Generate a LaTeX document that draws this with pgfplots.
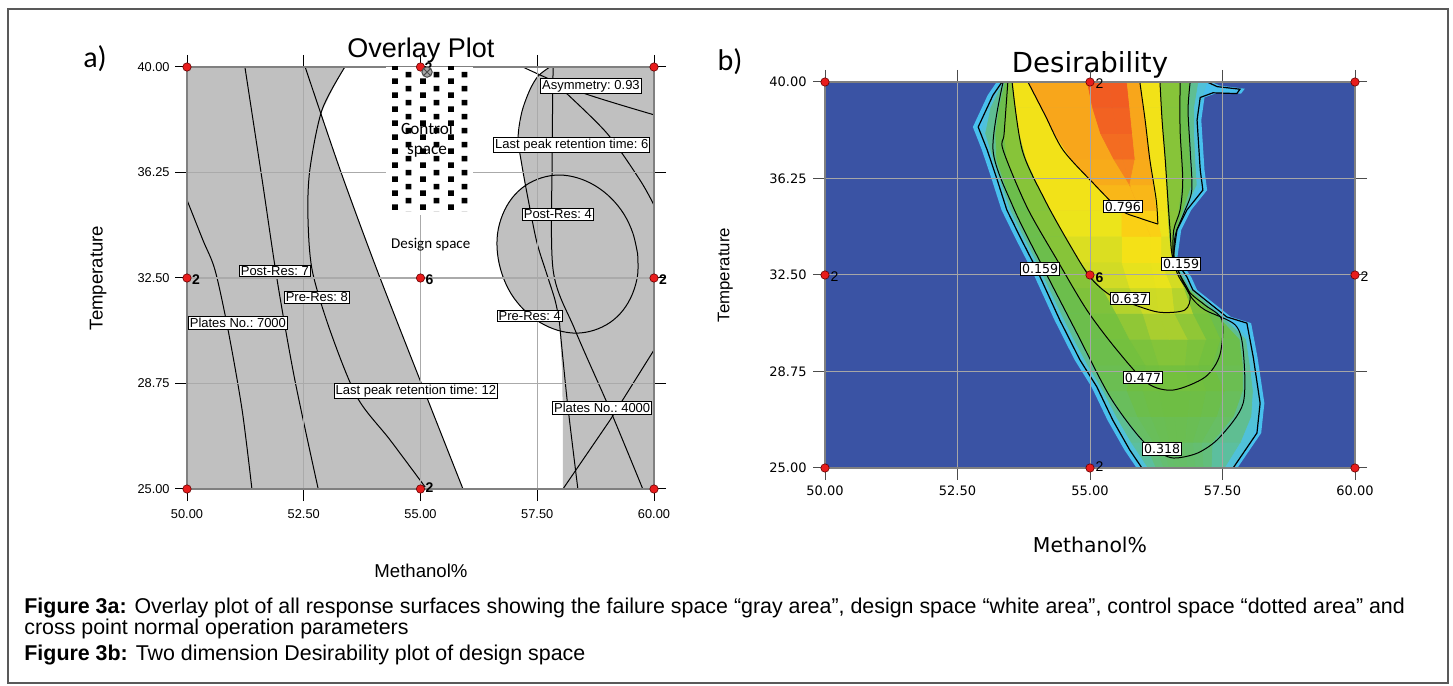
\documentclass[border=0pt]{standalone}
\usepackage{fontspec}
\setmainfont{Liberation Sans}
\newfontfamily\dejavu{DejaVu Sans}
\newfontfamily\carlito{Carlito}
\usepackage{pgfplots}
\pgfplotsset{compat=1.18}
\usetikzlibrary{patterns}
\pgfdeclarepatternformonly{ctrlsq}{\pgfpointorigin}{\pgfpoint{14pt}{7pt}}{\pgfpoint{14pt}{7pt}}{%
  \pgfpathrectangle{\pgfpoint{0pt}{0pt}}{\pgfpoint{3pt}{3pt}}%
  \pgfpathrectangle{\pgfpoint{7pt}{3.5pt}}{\pgfpoint{3pt}{3pt}}%
  \pgfusepath{fill}}
\definecolor{failgray}{RGB}{192,192,192}
\definecolor{gridg}{RGB}{170,170,170}
\definecolor{framegray}{RGB}{128,128,128}
\definecolor{dblue}{RGB}{58,83,164}
\definecolor{dotred}{RGB}{232,28,28}
\definecolor{cyanb}{RGB}{72,192,238}
\tikzset{lbl/.style={draw=black, fill=white, inner sep=0.7pt, line width=0.5pt, font=\fontsize{6.5}{7}\selectfont},
  clbl/.style={draw=black, fill=white, inner sep=0.8pt, line width=0.5pt, font=\dejavu\fontsize{6.3}{7}\selectfont},
  num/.style={anchor=west, inner sep=0.5pt, font=\bfseries\fontsize{7}{8}\selectfont}}
\begin{document}
\begin{tikzpicture}
\path (0,0) rectangle (726.5pt,343pt);
\draw[gray!70!black, line width=0.6pt] (4pt,1.5pt) rectangle (724pt,338.5pt);
% ---------------- left: overlay plot
\begin{axis}[
  at={(93.5pt,98.5pt)}, anchor=south west,
  width=233.5pt, height=211pt, scale only axis,
  xmin=50, xmax=60, ymin=25, ymax=40,
  set layers, axis on top, clip mode=individual,
  xtick={50,52.5,55,57.5,60}, xticklabels={50.00,52.50,55.00,57.50,60.00},
  ytick={25,28.75,32.5,36.25,40}, yticklabels={25.00,28.75,32.50,36.25,40.00},
  tick align=outside, major tick length=6pt,
  tick style={black, line width=0.5pt},
  xmajorgrids, ymajorgrids, grid style={gridg, line width=0.6pt},
  axis line style={framegray, line width=1pt},
  ticklabel style={font=\fontsize{6.4}{7}\selectfont, inner sep=0pt},
  xticklabel style={anchor=center, yshift=-6.5pt},
  yticklabel style={anchor=east, xshift=-2.5pt},
  title={Overlay Plot}, title style={at={(axis description cs:0.501,0.993)}, anchor=base, font=\fontsize{13.5}{15}\selectfont},
  xlabel={Methanol\%}, xlabel style={at={(axis description cs:0.501,-0.21)}, anchor=base, font=\fontsize{9.3}{11}\selectfont},
  ylabel={Temperature}, ylabel style={at={(axis description cs:-0.19,0.5)}, anchor=center, font=\fontsize{9.3}{11}\selectfont},
]
% failure regions
\addplot[fill=failgray, draw=none] coordinates {(50,40) (53.38,40) (53.13,39.25) (52.87,38.36) (53.28,36.34) (54.07,32.78) (54.99,28.87) (55.91,25) (50,25)} -- cycle;
\addplot[fill=failgray, draw=none] coordinates {(57.77,40) (57.52,39.68) (57.34,39.18) (57.17,38.40) (57.09,37.48) (57.17,36.52) (57.30,35.34) (57.49,33.78) (57.71,32.61) (57.88,31.72) (57.97,31.01) (58.03,29.23) (58.05,27.45) (58.05,25) (60,25) (60,40)} -- cycle;
\addplot[fill=failgray, draw=black, line width=0.5pt, smooth, tension=0.6] coordinates {(59.65,33.35) (59.55,34.08) (59.36,34.76) (59.08,35.34) (58.74,35.78) (58.36,36.06) (57.97,36.16) (57.59,36.06) (57.24,35.78) (56.96,35.34) (56.76,34.76) (56.65,34.08) (56.65,33.35) (56.75,32.62) (56.94,31.94) (57.22,31.36) (57.56,30.92) (57.94,30.64) (58.33,30.54) (58.71,30.64) (59.06,30.92) (59.34,31.36) (59.54,31.94) (59.65,32.62) (59.65,33.35)};
% contour lines
\addplot[black, line width=0.5pt, smooth, tension=0.5] coordinates {(50,35.27) (50.34,33.85) (50.60,32.78) (50.88,30.65) (51.18,27.81) (51.39,25)};
\addplot[black, line width=0.5pt, smooth, tension=0.5] coordinates {(51.24,40) (51.61,35.98) (51.93,32.43) (52.31,28.87) (52.81,25)};
\addplot[black, line width=0.5pt, smooth, tension=0.5] coordinates {(52.53,40) (53.28,36.34) (54.07,32.78) (54.99,28.87) (55.91,25)};
\addplot[black, line width=0.5pt, smooth, tension=0.5] coordinates {(53.38,40) (52.89,38.47) (52.63,36.34) (52.59,34.67) (52.68,32.78) (53.06,30.65) (53.64,28.27) (54.35,26.74) (55.10,25.07)};
\addplot[black, line width=0.5pt, smooth, tension=0.5] coordinates {(57.77,40) (57.52,39.68) (57.34,39.18) (57.17,38.40) (57.09,37.48) (57.17,36.52) (57.30,35.34) (57.49,33.78) (57.71,32.61) (57.88,31.72) (57.97,31.01)};
\addplot[black, line width=0.5pt, smooth, tension=0.5] coordinates {(57.97,31.01) (58.14,28.16) (58.37,25)};
\addplot[black, line width=0.5pt, smooth, tension=0.5] coordinates {(57.84,40) (57.82,36.87) (57.84,32.78) (58.31,30.65) (59.06,27.81) (59.76,25)};
\addplot[black, line width=0.5pt] coordinates {(58.05,25) (59.06,27.45) (60,29.94)};
\addplot[black, line width=0.5pt, smooth] coordinates {(57.19,40) (58.42,39.11) (60,38.3)};
\addplot[black, line width=0.5pt, smooth, tension=0.5] coordinates {(58.05,39.18) (58.99,37.65) (59.70,35.98) (60,35.09)};
% control space
\addplot[on layer=axis foreground, fill=white, draw=none] coordinates {(54.26,34.74) (56.12,34.74) (56.12,40) (54.26,40)} -- cycle;
\addplot[on layer=axis foreground, pattern=ctrlsq, pattern color=black, draw=none] coordinates {(54.33,34.85) (56.03,34.85) (56.03,40) (54.33,40)} -- cycle;
\begin{pgfonlayer}{axis foreground}
\node[align=center, font=\carlito\fontsize{8.6}{10}\selectfont] at (axis cs:55.14,37.40) {Control\\space};
\node[font=\carlito\fontsize{7.5}{9}\selectfont] at (axis cs:55.22,33.67) {Design space};
\node[lbl] at (axis cs:58.65,39.32) {Asymmetry:\ 0.93};
\node[lbl] at (axis cs:58.24,37.23) {Last peak retention time:\ 6};
\node[lbl] at (axis cs:57.94,34.77) {Post-Res:\ 4};
\node[lbl] at (axis cs:57.34,31.15) {Pre-Res:\ 4};
\node[lbl] at (axis cs:58.89,27.88) {Plates No.:\ 4000};
\node[lbl] at (axis cs:54.90,28.48) {Last peak retention time:\ 12};
\node[lbl] at (axis cs:51.09,30.90) {Plates No.:\ 7000};
\node[lbl] at (axis cs:52.78,31.82) {Pre-Res:\ 8};
\node[lbl] at (axis cs:51.88,32.75) {Post-Res:\ 7};
\node[num] at (axis cs:50.08,32.45) {2};
\node[num] at (axis cs:55.08,32.45) {6};
\node[num] at (axis cs:60.08,32.45) {2};
\node[num] at (axis cs:55.08,25.05) {2};
\node[num] at (axis cs:55.06,39.98) {2};
\end{pgfonlayer}
\addplot[on layer=axis foreground, only marks, mark=*, mark size=2.1pt, mark options={fill=dotred, draw=red!40!black, line width=0.3pt}] coordinates {(50,25) (55,25) (60,25) (50,32.5) (55,32.5) (60,32.5) (50,40) (55,40) (60,40)};
\addplot[on layer=axis foreground, only marks, mark=otimes*, mark size=2.6pt, mark options={fill=gray!70, draw=black!70, line width=0.5pt}] coordinates {(55.14,39.82)};
\end{axis}
% ---------------- right: desirability
\begin{axis}[
  at={(412.5pt,109pt)}, anchor=south west,
  width=265pt, height=193pt, scale only axis,
  view={0}{90},
  xmin=50, xmax=60, ymin=25, ymax=40, zmin=0, zmax=1, ztick=\empty,
  set layers, axis on top, clip mode=individual,
  xtick={50,52.5,55,57.5,60}, xticklabels={50.00,52.50,55.00,57.50,60.00},
  ytick={25,28.75,32.5,36.25,40}, yticklabels={25.00,28.75,32.50,36.25,40.00},
  tick align=outside, major tick length=6pt,
  tick style={black!70, line width=0.5pt},
  xmajorgrids, ymajorgrids, grid style={gray!70, line width=0.5pt},
  axis line style={framegray, line width=0.7pt},
  ticklabel style={font=\dejavu\fontsize{6.5}{7}\selectfont, inner sep=0pt},
  xticklabel style={anchor=center, yshift=-5.5pt},
  yticklabel style={anchor=east, xshift=-3pt},
  title={Desirability}, title style={at={(axis description cs:0.5,0.994)}, anchor=base, font=\dejavu\fontsize{13.8}{15}\selectfont},
  xlabel={Methanol\%}, xlabel style={at={(axis description cs:0.5,-0.218)}, anchor=base, font=\dejavu\fontsize{10.2}{12}\selectfont},
  ylabel={Temperature}, ylabel style={at={(axis description cs:-0.188,0.5)}, anchor=center, font=\fontsize{8.4}{10}\selectfont},
  colormap={desir}{rgb255=(72,192,238) rgb255=(76,193,228) rgb255=(82,193,210) rgb255=(86,192,190) rgb255=(90,191,165) rgb255=(96,190,140) rgb255=(101,190,115) rgb255=(105,190,92) rgb255=(108,190,75) rgb255=(111,190,66) rgb255=(116,192,62) rgb255=(130,195,58) rgb255=(165,205,48) rgb255=(205,218,38) rgb255=(238,228,26) rgb255=(250,222,20) rgb255=(250,198,22) rgb255=(248,165,27) rgb255=(244,118,32) rgb255=(240,78,35) rgb255=(236,55,36)},
  point meta min=0, point meta max=1,
]
\addplot[fill=dblue, draw=none] coordinates {(50,25) (60,25) (60,40) (50,40)} -- cycle;
\addplot[fill=cyanb, draw=none] coordinates {(53.24,40) (53.07,39.49) (52.79,38.25) (52.96,37.36) (53.15,36.19) (53.33,35.03) (53.58,33.98) (53.90,32.69) (54.33,30.75) (54.71,29.20) (55.03,28.15) (55.33,26.86) (55.65,25.70) (55.88,25) (57.78,25) (58.23,26.36) (58.29,27.52) (58.16,29.31) (58.04,30.63) (57.66,30.87) (57.02,31.92) (56.91,32.42) (56.65,33.20) (56.72,34.25) (56.91,35.03) (57.21,35.80) (57.16,36.58) (57.10,38.52) (57.16,39.40) (57.40,39.58) (57.85,39.55) (57.92,39.74) (57.45,39.86) (57.29,40)} -- cycle;
\addplot3[surf, shader=faceted, faceted color=mapped color, line width=0.3pt, mesh/cols=15, point meta=\thisrow{d}] table[x=x, y=y, z=d] {
x y d
53.34 40 0
53.37 40 0.159
53.40 40 0.318
53.46 40 0.477
53.55 40 0.637
53.83 40 0.796
54.95 40 0.9
55.35 40 0.97
55.70 40 0.9
55.94 40 0.796
56.32 40 0.637
56.70 40 0.477
56.89 40 0.318
57.05 40 0.159
57.21 40 0
53.06 39 0
53.13 39 0.159
53.29 39 0.318
53.42 39 0.477
53.60 39 0.637
54.08 39 0.796
55.05 39 0.9
55.42 39 0.96
55.75 39 0.9
56.01 39 0.796
56.35 39 0.637
56.70 39 0.477
56.86 39 0.318
56.97 39 0.159
57.05 39 0
52.94 38 0
53.03 38 0.159
53.22 38 0.318
53.38 38 0.477
53.67 38 0.637
54.33 38 0.796
55.20 38 0.9
55.52 38 0.94
55.80 38 0.9
56.07 38 0.796
56.38 38 0.637
56.70 38 0.477
56.87 38 0.318
56.97 38 0.159
57.04 38 0
53.12 37 0
53.18 37 0.159
53.24 37 0.318
53.43 37 0.477
53.80 37 0.637
54.65 37 0.796
55.45 37 0.9
55.62 37 0.91
55.85 37 0.9
56.13 37 0.796
56.42 37 0.637
56.73 37 0.477
56.89 37 0.318
56.99 37 0.159
57.07 37 0
53.28 36 0
53.34 36 0.159
53.40 36 0.318
53.64 36 0.477
54.02 36 0.637
55.09 36 0.796
55.75 36 0.87
55.75 36 0.87
55.75 36 0.87
56.20 36 0.796
56.45 36 0.637
56.74 36 0.477
56.92 36 0.318
57.02 36 0.159
57.09 36 0
53.44 35 0
53.51 35 0.159
53.58 35 0.318
53.85 35 0.477
54.26 35 0.637
55.60 35 0.796
55.95 35 0.83
55.95 35 0.83
55.95 35 0.83
56.26 35 0.796
56.47 35 0.637
56.68 35 0.477
56.76 35 0.318
56.80 35 0.159
56.82 35 0
53.68 34 0
53.75 34 0.159
53.82 34 0.318
54.13 34 0.477
54.53 34 0.637
55.60 34 0.72
56.15 34 0.77
56.15 34 0.77
56.15 34 0.77
56.35 34 0.72
56.50 34 0.637
56.56 34 0.477
56.59 34 0.318
56.61 34 0.159
56.62 34 0
53.92 33 0
54.00 33 0.159
54.06 33 0.318
54.40 33 0.477
54.82 33 0.637
55.60 33 0.69
56.15 33 0.72
56.15 33 0.72
56.15 33 0.72
56.35 33 0.70
56.56 33 0.637
56.58 33 0.477
56.60 33 0.318
56.61 33 0.159
56.62 33 0
54.15 32 0
54.23 32 0.159
54.31 32 0.318
54.69 32 0.477
55.23 32 0.637
55.75 32 0.66
56.25 32 0.68
56.25 32 0.68
56.25 32 0.68
56.55 32 0.67
56.78 32 0.637
56.82 32 0.477
56.85 32 0.318
56.89 32 0.159
56.92 32 0
54.37 31 0
54.46 31 0.159
54.56 31 0.318
54.99 31 0.477
55.50 31 0.56
56.00 31 0.62
56.30 31 0.64
56.30 31 0.64
56.30 31 0.64
56.60 31 0.62
56.95 31 0.56
57.25 31 0.477
57.38 31 0.318
57.45 31 0.159
57.50 31 0
54.61 30 0
54.70 30 0.159
54.81 30 0.318
55.36 30 0.477
55.75 30 0.53
56.15 30 0.57
56.50 30 0.59
56.50 30 0.59
56.50 30 0.59
56.85 30 0.57
57.20 30 0.53
57.47 30 0.477
57.83 30 0.318
57.95 30 0.159
58.02 30 0
54.87 29 0
54.96 29 0.159
55.07 29 0.318
55.77 29 0.477
56.05 29 0.50
56.30 29 0.52
56.55 29 0.53
56.55 29 0.53
56.55 29 0.53
56.80 29 0.52
57.05 29 0.50
57.32 29 0.477
57.89 29 0.318
58.02 29 0.159
58.10 29 0
55.16 28 0
55.25 28 0.159
55.32 28 0.318
55.70 28 0.40
56.00 28 0.44
56.30 28 0.465
56.60 28 0.475
56.60 28 0.475
56.60 28 0.475
56.90 28 0.465
57.20 28 0.44
57.55 28 0.40
57.89 28 0.318
58.08 28 0.159
58.18 28 0
55.40 27 0
55.50 27 0.159
55.65 27 0.318
55.90 27 0.36
56.15 27 0.39
56.40 27 0.41
56.60 27 0.415
56.60 27 0.415
56.60 27 0.415
56.85 27 0.41
57.10 27 0.39
57.40 27 0.36
57.72 27 0.318
58.05 27 0.159
58.18 27 0
55.67 26 0
55.78 26 0.159
56.04 26 0.318
56.20 26 0.33
56.35 26 0.345
56.50 26 0.353
56.65 26 0.355
56.65 26 0.355
56.65 26 0.355
56.80 26 0.353
56.95 26 0.345
57.12 26 0.33
57.32 26 0.318
57.85 26 0.159
58.03 26 0
55.98 25 0
56.10 25 0.159
56.25 25 0.22
56.40 25 0.26
56.50 25 0.28
56.60 25 0.29
56.70 25 0.295
56.70 25 0.295
56.70 25 0.295
56.85 25 0.29
57.00 25 0.28
57.15 25 0.26
57.30 25 0.22
57.55 25 0.159
57.70 25 0
};
% region boundary
\addplot[black, line width=0.6pt] coordinates {(53.34,40) (53.17,39.49) (52.89,38.25) (53.06,37.36) (53.25,36.19) (53.43,35.03) (53.68,33.98) (54.00,32.69) (54.43,30.75) (54.81,29.20) (55.13,28.15) (55.43,26.86) (55.75,25.70) (55.98,25)};
\addplot[black, line width=0.6pt] coordinates {(57.70,25) (58.15,26.36) (58.21,27.52) (58.08,29.31) (57.96,30.63) (57.58,30.87) (56.94,31.92) (56.83,32.42) (56.57,33.20) (56.64,34.25) (56.83,35.03) (57.13,35.80) (57.08,36.58) (57.02,38.52) (57.08,39.40) (57.32,39.58) (57.77,39.55) (57.83,39.72) (57.40,39.82) (57.21,40)};
% contours
\addplot[black, line width=0.5pt, smooth, tension=0.5] coordinates {(53.83,40) (54.15,38.72) (54.49,37.36) (55.06,36.07) (55.57,35.03) (55.94,34.71) (56.28,34.48)};
\addplot[black, line width=0.5pt, smooth, tension=0.5] coordinates {(56.28,34.48) (56.25,35.41) (56.13,36.97) (56.04,38.52) (55.94,40)};
\addplot[black, line width=0.5pt, smooth, tension=0.5] coordinates {(53.53,40) (53.72,37.36) (54.15,35.41) (54.62,33.67) (55.00,32.42) (55.38,31.72) (55.85,31.33) (56.32,31.05) (56.79,31.14) (56.89,31.72) (56.70,32.50) (56.55,33.28) (56.51,34.25) (56.47,35.41) (56.42,36.97) (56.36,38.52) (56.32,40)};
\addplot[black, line width=0.5pt, smooth, tension=0.5] coordinates {(53.45,40) (53.38,38.0) (53.36,37.36) (53.81,35.14) (54.38,33.08) (54.94,31.14) (55.51,29.58) (56.08,28.30) (56.57,28.03) (57.17,28.53) (57.45,29.39) (57.49,30.75) (57.17,31.33) (56.89,31.80) (56.66,32.50) (56.57,33.20) (56.58,34.25) (56.70,35.03) (56.75,36.19) (56.70,38.13) (56.70,40)};
\addplot[black, line width=0.5pt, smooth, tension=0.5] coordinates {(53.36,40) (53.17,37.36) (53.55,35.14) (54.11,32.81) (54.75,30.25) (55.38,27.76) (55.98,26.09) (56.40,25.50) (56.64,25.39) (57.05,25.60) (57.45,26.20) (57.89,27.52) (57.89,29.58) (57.74,30.56) (57.17,31.14) (56.92,31.61) (56.74,32.30) (56.59,33.16) (56.61,34.05) (56.78,34.95) (56.92,35.80) (56.89,37.36) (56.85,38.91) (56.89,40)};
\begin{pgfonlayer}{axis foreground}
\node[clbl] at (axis cs:55.62,35.16,1) {0.796};
\node[clbl] at (axis cs:54.06,32.73,1) {0.159};
\node[clbl] at (axis cs:56.72,32.93,1) {0.159};
\node[clbl] at (axis cs:55.75,31.59,1) {0.637};
\node[clbl] at (axis cs:56.00,28.52,1) {0.477};
\node[clbl] at (axis cs:56.36,25.74,1) {0.318};
\node[num, font=\fontsize{7}{8}\selectfont] at (axis cs:55.08,39.93,1) {2};
\node[num, font=\fontsize{7}{8}\selectfont] at (axis cs:50.08,32.45,1) {2};
\node[num, font=\fontsize{7}{8}\selectfont] at (axis cs:60.08,32.45,1) {2};
\node[num] at (axis cs:55.08,32.4,1) {6};
\node[num, font=\fontsize{7}{8}\selectfont] at (axis cs:55.08,25.05,1) {2};
\end{pgfonlayer}
\addplot[on layer=axis foreground, only marks, mark=*, mark size=2.1pt, mark options={fill=dotred, draw=red!40!black, line width=0.3pt}] coordinates {(50,25) (55,25) (60,25) (50,32.5) (55,32.5) (60,32.5) (50,40) (55,40) (60,40)};
\end{axis}
% panel letters and caption
\node[font=\carlito\fontsize{15}{16}\selectfont] at (47.5pt,313.5pt) {a)};
\node[font=\carlito\fontsize{15}{16}\selectfont] at (365pt,312pt) {b)};
\node[anchor=base west, inner sep=0pt, font=\fontsize{10.7}{12}\selectfont] at (12pt,36pt) {\textbf{Figure 3a:} Overlay plot of all response surfaces showing the failure space “gray area”, design space “white area”, control space “dotted area” and};
\node[anchor=base west, inner sep=0pt, font=\fontsize{10.7}{12}\selectfont] at (12pt,25.5pt) {cross point normal operation parameters};
\node[anchor=base west, inner sep=0pt, font=\fontsize{10.7}{12}\selectfont] at (12pt,12.5pt) {\textbf{Figure 3b:} Two dimension Desirability plot of design space};
\end{tikzpicture}
\end{document}
